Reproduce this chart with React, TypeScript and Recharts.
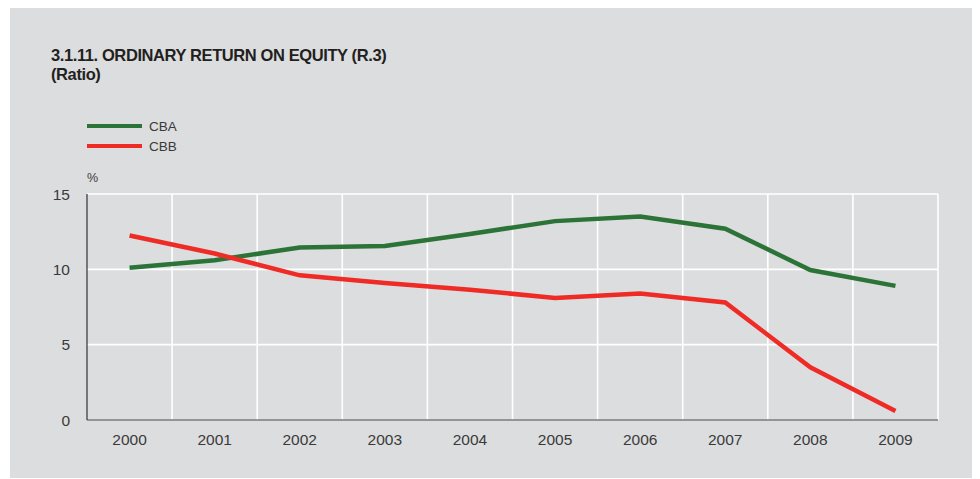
import { LineChart, Line, XAxis, YAxis, CartesianGrid } from "recharts";

const years = ["2000", "2001", "2002", "2003", "2004", "2005", "2006", "2007", "2008", "2009"];
const cba = [10.1, 10.6, 11.45, 11.55, 12.35, 13.2, 13.5, 12.7, 9.95, 8.9];
const cbb = [12.25, 11.05, 9.6, 9.1, 8.65, 8.1, 8.4, 7.8, 3.5, 0.6];
const yTicks = [0, 5, 10, 15];

const TEXT = "#3a3a3a";
const FONT = "'Liberation Sans', Arial, sans-serif";

const series = [
    { key: "CBA", color: "#2b7337" },
    { key: "CBB", color: "#ee2b25" }
];

const data = years.map((y, i) => ({ idx: i, year: y, CBA: cba[i], CBB: cbb[i] }));

export default function App() {
    return (
        <div
            style={{
                position: "relative",
                marginLeft: 2,
                width: 965,
                height: 470,
                background: "#dcdddf",
                fontFamily: FONT
            }}
        >
            <div
                style={{
                    position: "absolute",
                    left: 41,
                    top: 38,
                    fontSize: 16.5,
                    letterSpacing: -0.4,
                    fontWeight: 700,
                    color: "#231f20",
                    lineHeight: "19px"
                }}
            >
                3.1.11. ORDINARY RETURN ON EQUITY (R.3)
                <br />
                (Ratio)
            </div>
            <div style={{ position: "absolute", left: 77, top: 108 }}>
                {series.map((s) => (
                    <div key={s.key} style={{ display: "flex", alignItems: "center", height: 20 }}>
                        <div style={{ width: 55, height: 4, background: s.color }} />
                        <span style={{ marginLeft: 7, fontSize: 13.5, color: TEXT }}>{s.key}</span>
                    </div>
                ))}
            </div>
            <div style={{ position: "absolute", left: 77, top: 163, fontSize: 12.5, color: TEXT }}>%</div>
            <LineChart
                width={965}
                height={470}
                data={data}
                margin={{ top: 186, right: 37, left: 0, bottom: 0 }}
                style={{ position: "absolute", left: 0, top: 0 }}
            >
                <CartesianGrid
                    stroke="#ffffff"
                    strokeWidth={1.6}
                    verticalCoordinatesGenerator={({ offset }: any) =>
                        years.map((_, i) => offset.left + (offset.width * (i + 1)) / years.length)
                    }
                />
                <XAxis
                    dataKey="idx"
                    type="number"
                    domain={[-0.5, years.length - 0.5]}
                    ticks={years.map((_, i) => i)}
                    tickFormatter={(v: number) => years[v]}
                    height={58}
                    tickLine={false}
                    tickSize={0}
                    tickMargin={14}
                    axisLine={{ stroke: "#333333", strokeWidth: 1.2 }}
                    tick={{ fontSize: 15.5, fill: TEXT, fontFamily: FONT }}
                />
                <YAxis
                    domain={[0, 15]}
                    ticks={yTicks}
                    width={77}
                    tickLine={false}
                    tickSize={0}
                    tickMargin={17}
                    axisLine={{ stroke: "#333333", strokeWidth: 1.2 }}
                    tick={{ fontSize: 15.5, fill: TEXT, fontFamily: FONT }}
                />
                {series.map((s) => (
                    <Line
                        key={s.key}
                        type="linear"
                        dataKey={s.key}
                        stroke={s.color}
                        strokeWidth={4.5}
                        dot={false}
                        isAnimationActive={false}
                    />
                ))}
            </LineChart>
        </div>
    );
}
